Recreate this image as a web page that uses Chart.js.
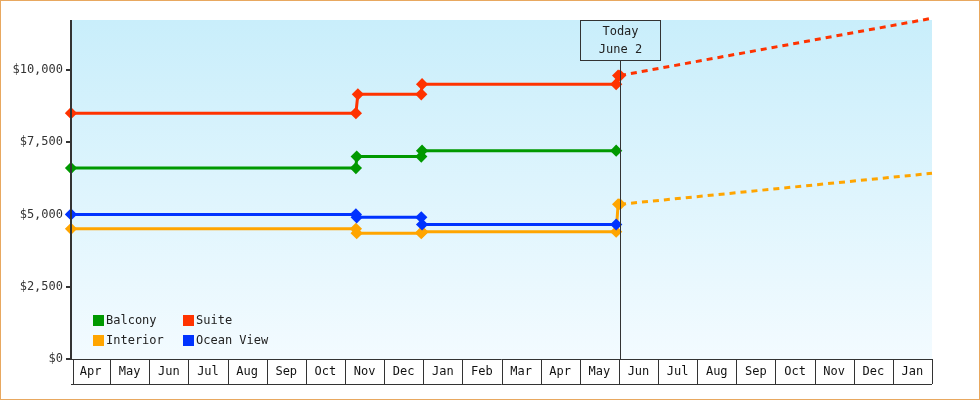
<!DOCTYPE html>
<html><head><meta charset="utf-8">
<script src="https://cdn.jsdelivr.net/npm/chart.js@4"></script>
<style>html,body{margin:0;padding:0;background:#fff}
#w{width:978px;height:398px;border:1px solid #e8a860;position:relative}
canvas{display:block}</style></head>
<body><div id="w"><canvas id="c" width="978" height="398"></canvas></div>
<script>
// x values: months since Apr 1 (Apr of first year = 0)
const monthLabels = ['Apr','May','Jun','Jul','Aug','Sep','Oct','Nov','Dec','Jan','Feb','Mar','Apr','May','Jun','Jul','Aug','Sep','Oct','Nov','Dec','Jan'];
const yTicks = [0,2500,5000,7500,10000];
const todayX = 14.03;
const todayLabel = ['Today','June 2'];

const suiteX   = [0, 7.28, 7.33, 8.95, 8.97, 13.93, 13.98, 14.03];
const suiteY   = [8500, 8500, 9150, 9150, 9500, 9500, 9800, 9800];
const suiteFX  = [14.03, 22];
const suiteFY  = [9800, 11780];
const balconyX = [0, 7.28, 7.30, 8.95, 8.97, 13.93];
const balconyY = [6600, 6600, 7000, 7000, 7200, 7200];
const oceanX   = [0, 7.28, 7.30, 8.95, 8.97, 13.93];
const oceanY   = [5000, 5000, 4900, 4900, 4650, 4650];
const interiorX  = [0, 7.28, 7.30, 8.95, 8.97, 13.93, 13.98, 14.03];
const interiorY  = [4500, 4500, 4350, 4350, 4400, 4400, 5350, 5350];
const interiorFX = [14.03, 22];
const interiorFY = [5350, 6420];

const C = {suite:'#ff3300', balcony:'#009900', ocean:'#0033ff', interior:'#ffa500'};
const pts = (xs, ys) => xs.map((x,i)=>({x, y: ys[i]}));
const ds = (label, xs, ys, col, dashed) => ({
  label, data: pts(xs, ys), borderColor: col, backgroundColor: col,
  borderWidth: 3, borderDash: dashed ? [6,5] : [],
  pointRadius: dashed ? 0 : 4, pointStyle: 'rectRot', pointHoverRadius: 0,
  tension: 0, fill: false
});

const font = "'DejaVu Sans Mono', monospace";
const deco = {
  id: 'deco',
  beforeDraw(ch) {
    const {ctx, chartArea: a} = ch;
    const g = ctx.createLinearGradient(0, a.top, 0, a.bottom);
    g.addColorStop(0, '#c9eefb'); g.addColorStop(1, '#f3fbff');
    ctx.fillStyle = g; ctx.fillRect(a.left, a.top, a.right - a.left, a.bottom - a.top);
  },
  afterDraw(ch) {
    const {ctx, chartArea: a, scales: {x}} = ch;
    ctx.save();
    // month boxes
    ctx.strokeStyle = '#333'; ctx.lineWidth = 1;
    ctx.font = '12px ' + font; ctx.fillStyle = '#111';
    ctx.textAlign = 'center'; ctx.textBaseline = 'middle';
    const top = a.bottom, bot = a.bottom + 25;
    ctx.beginPath(); ctx.moveTo(a.left, bot + 0.5); ctx.lineTo(a.right, bot + 0.5); ctx.stroke();
    for (let i = 0; i <= monthLabels.length; i++) {
      const px = Math.round(x.getPixelForValue(i)) + 0.5 + (i===0?2:0);
      ctx.beginPath(); ctx.moveTo(px, top); ctx.lineTo(px, bot); ctx.stroke();
      if (i < monthLabels.length)
        ctx.fillText(monthLabels[i], x.getPixelForValue(i + 0.5), top + 13);
    }
    ctx.beginPath(); ctx.moveTo(a.left, top + 0.5); ctx.lineTo(a.right, top + 0.5); ctx.stroke();
    // today
    const tx = Math.round(x.getPixelForValue(todayX)) + 0.5;
    ctx.strokeStyle = '#333';
    ctx.beginPath(); ctx.moveTo(tx, a.top + 40); ctx.lineTo(tx, a.bottom); ctx.stroke();
    ctx.strokeRect(tx - 40, a.top + 0.5, 80, 40);
    ctx.fillStyle = '#222';
    ctx.fillText(todayLabel[0], tx, a.top + 12);
    ctx.fillText(todayLabel[1], tx, a.top + 30);
    // legend
    const items = [['Balcony', C.balcony, 0, 0], ['Suite', C.suite, 1, 0], ['Interior', C.interior, 0, 1], ['Ocean View', C.ocean, 1, 1]];
    ctx.textAlign = 'left';
    items.forEach(([t, c, col, row]) => {
      const lx = a.left + 22 + col * 90, ly = a.top + 295 + row * 20;
      ctx.fillStyle = c; ctx.fillRect(lx, ly, 11, 11);
      ctx.fillStyle = '#222'; ctx.fillText(t, lx + 13, ly + 6);
    });
    // y axis line
    ctx.strokeStyle = '#333'; ctx.lineWidth = 2;
    ctx.beginPath(); ctx.moveTo(a.left, a.top); ctx.lineTo(a.left, a.bottom); ctx.stroke();
    ctx.restore();
  }
};

new Chart(document.getElementById('c'), {
  type: 'line',
  data: { datasets: [
    ds('Suite', suiteX, suiteY, C.suite),
    ds('Suite forecast', suiteFX, suiteFY, C.suite, true),
    ds('Balcony', balconyX, balconyY, C.balcony),
    ds('Ocean View', oceanX, oceanY, C.ocean),
    ds('Interior', interiorX, interiorY, C.interior),
    ds('Interior forecast', interiorFX, interiorFY, C.interior, true)
  ]},
  options: {
    responsive: false, animation: false, clip: false,
    layout: { padding: { top: 19, bottom: 40, right: 47, left: 0 } },
    plugins: { legend: { display: false }, tooltip: { enabled: false } },
    scales: {
      x: { type: 'linear', min: 0, max: 22, display: false },
      y: { min: 0, max: 11720,
        afterFit: s => { s.width = 70; },
        afterBuildTicks: s => { s.ticks = yTicks.map(v => ({value: v})); },
        grid: { drawOnChartArea: false, color: '#333', lineWidth: 2, tickLength: 5 },
        border: { display: false },
        ticks: { color: '#333', padding: 3, font: { family: font, size: 12 },
          callback: v => '$' + v.toLocaleString('en-US') }
      }
    }
  },
  plugins: [deco]
});
</script></body></html>
